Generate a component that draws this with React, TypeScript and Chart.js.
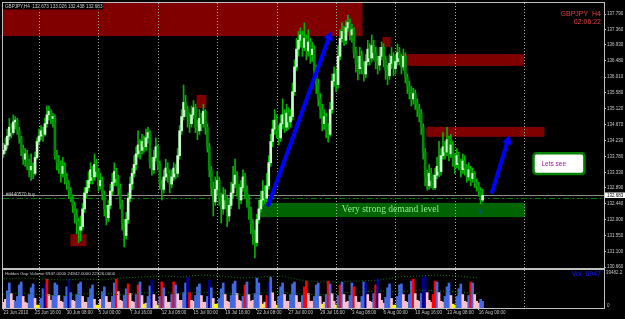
import React, { useEffect, useRef } from "react";
import { Chart, registerables } from "chart.js";

Chart.register(...registerables);

// ---------- price data (H4 bars, index 0 = 23 Jun 2010 00:00) ----------
const firstOpen = 133.85;
const closes = [
  133.95, 134.10, 134.35, 134.60, 134.45, 134.75, 134.80, 134.50, 134.30, 134.00,
  133.70, 133.85, 133.55, 133.40, 133.50, 133.30, 133.75, 134.20, 134.35, 134.50,
  134.40, 134.70, 134.95, 135.05, 134.85, 134.90, 133.80, 133.60, 133.55, 133.30,
  133.50, 133.20, 133.05, 132.80, 132.60, 132.40, 132.15, 131.95, 131.70, 131.80,
  132.30, 132.75, 132.90, 133.10, 133.40, 133.20, 133.55, 133.35, 132.95, 133.10,
  132.70, 132.30, 132.05, 132.40, 132.80, 133.05, 133.35, 133.15, 132.90, 132.45,
  131.90, 131.55, 132.00, 132.60, 133.00, 133.30, 133.55, 133.85, 134.10, 133.95,
  134.20, 134.05, 134.30, 134.45, 133.60, 133.40, 133.75, 134.05, 133.55, 133.00,
  132.85, 133.20, 133.45, 133.30, 133.00, 133.20, 133.45, 133.30, 133.80, 134.50,
  134.90, 135.30, 135.10, 134.90, 134.70, 134.95, 135.15, 134.60, 134.50, 134.85,
  134.70, 135.05, 134.60, 134.05, 133.40, 132.90, 132.50, 132.85, 133.10, 132.60,
  132.30, 132.70, 132.55, 132.10, 132.40, 132.75, 133.00, 133.25, 132.85, 132.55,
  132.90, 133.20, 132.80, 132.60, 132.25, 131.90, 131.55, 131.35, 132.00, 132.30,
  132.55, 132.80, 132.60, 132.95, 133.60, 134.20, 134.55, 134.80, 134.50, 134.30,
  134.70, 134.95, 134.60, 135.00, 134.75, 134.90, 135.60, 136.30, 136.80, 137.05,
  137.20, 136.85, 137.10, 136.75, 137.00, 136.65, 136.80, 136.20, 135.80, 135.40,
  135.10, 134.70, 134.90, 134.50, 134.40, 135.10, 135.90, 136.10, 135.80, 136.60,
  137.10, 137.30, 137.05, 137.40, 137.55, 137.20, 137.35, 136.70, 136.40, 136.25,
  136.60, 136.30, 136.10, 136.45, 136.80, 136.55, 136.90, 136.70, 136.45, 136.35,
  136.60, 136.85, 136.50, 136.20, 136.05, 136.40, 136.60, 136.25, 136.45, 136.70,
  136.55, 136.30, 136.60, 136.00, 135.75, 135.60, 135.40, 135.55, 135.30, 135.10,
  135.00, 134.60, 133.90, 133.20, 132.95, 133.30, 133.10, 132.90, 133.25, 133.50,
  133.35, 133.80, 134.05, 133.90, 134.25, 133.85, 134.10, 133.70, 133.55, 133.80,
  133.60, 133.40, 133.65, 133.45, 133.20, 133.40, 133.15, 133.30, 133.05, 132.95,
  132.80, 132.55, 132.68,
];
const highs = [
  134.15, 134.30, 134.55, 134.85, 134.70, 134.95, 134.90, 134.85, 134.60, 134.35,
  134.10, 134.00, 133.95, 133.70, 133.85, 133.60, 133.90, 134.30, 134.55, 134.65,
  134.60, 134.85, 135.20, 135.20, 135.10, 135.00, 134.95, 133.95, 133.80, 133.65,
  133.75, 133.60, 133.30, 133.10, 132.90, 132.70, 132.50, 132.30, 132.05, 132.10,
  132.45, 132.90, 133.10, 133.35, 133.60, 133.50, 133.85, 133.70, 133.45, 133.30,
  133.20, 132.80, 132.40, 132.55, 133.00, 133.30, 133.60, 133.45, 133.25, 133.00,
  132.55, 132.00, 132.20, 132.75, 133.20, 133.45, 133.80, 134.05, 134.50, 134.25,
  134.40, 134.35, 134.55, 134.60, 134.50, 133.75, 133.95, 134.30, 134.10, 133.65,
  133.10, 133.40, 133.70, 133.60, 133.40, 133.40, 133.60, 133.55, 134.00, 134.65,
  135.10, 135.79, 135.50, 135.20, 135.00, 135.20, 135.35, 135.25, 134.80, 135.10,
  135.00, 135.25, 135.10, 134.70, 134.15, 133.50, 133.05, 133.20, 133.35, 133.20,
  132.75, 132.90, 132.85, 132.65, 132.60, 133.05, 133.50, 133.70, 133.35, 133.00,
  133.10, 133.40, 133.30, 132.95, 132.70, 132.35, 132.00, 131.70, 132.15, 132.55,
  132.80, 133.10, 132.95, 133.30, 133.80, 134.40, 134.80, 135.10, 134.95, 134.65,
  134.95, 135.40, 135.10, 135.25, 135.15, 135.10, 135.85, 136.50, 137.10, 137.30,
  137.40, 137.30, 137.54, 137.20, 137.35, 137.10, 137.00, 136.90, 136.35, 135.95,
  135.55, 135.25, 135.10, 135.00, 134.70, 135.30, 136.10, 136.30, 136.20, 136.90,
  137.35, 137.55, 137.45, 137.60, 137.76, 137.65, 137.50, 137.40, 136.85, 136.60,
  136.85, 136.75, 136.45, 136.65, 137.05, 136.95, 137.20, 137.05, 136.85, 136.60,
  136.85, 137.00, 136.95, 136.60, 136.35, 136.65, 136.85, 136.70, 136.65, 136.95,
  136.85, 136.65, 136.80, 136.70, 136.10, 135.90, 135.75, 135.70, 135.65, 135.40,
  135.25, 135.10, 134.70, 134.00, 133.40, 133.55, 133.45, 133.25, 133.45, 133.75,
  134.20, 134.00, 134.45, 134.20, 134.60, 134.35, 134.40, 134.20, 133.85, 134.00,
  133.90, 133.70, 133.85, 133.80, 133.55, 133.60, 133.50, 133.45, 133.35, 133.15,
  133.05, 132.90, 132.85,
];
const lows = [
  133.75, 133.85, 134.00, 134.25, 134.30, 134.40, 134.55, 134.40, 134.15, 133.80,
  133.55, 133.50, 133.40, 133.20, 133.10, 133.15, 133.25, 133.70, 134.10, 134.25,
  134.20, 134.35, 134.60, 134.80, 134.70, 134.60, 133.70, 133.40, 133.30, 133.05,
  133.20, 133.00, 132.85, 132.60, 132.50, 132.20, 131.90, 131.60, 131.35, 131.40,
  131.70, 132.20, 132.60, 132.80, 133.00, 133.00, 133.10, 133.20, 132.80, 132.85,
  132.55, 132.10, 131.85, 131.95, 132.30, 132.70, 132.95, 132.95, 132.70, 132.30,
  131.70, 131.23, 131.45, 131.90, 132.50, 132.85, 133.20, 133.40, 133.75, 133.70,
  133.85, 133.90, 133.95, 134.15, 133.45, 133.25, 133.30, 133.65, 133.40, 132.85,
  132.55, 132.75, 133.10, 133.05, 132.75, 132.90, 133.10, 133.15, 133.20, 133.70,
  134.40, 134.80, 134.90, 134.60, 134.45, 134.60, 134.85, 134.45, 134.25, 134.40,
  134.50, 134.60, 134.40, 133.90, 133.20, 132.70, 132.10, 132.40, 132.70, 132.40,
  131.90, 132.15, 132.30, 131.80, 131.95, 132.30, 132.60, 132.90, 132.65, 132.30,
  132.45, 132.80, 132.60, 132.35, 132.00, 131.60, 131.30, 130.92, 131.25, 131.90,
  132.20, 132.40, 132.45, 132.50, 132.85, 133.50, 134.05, 134.40, 134.30, 134.10,
  134.20, 134.55, 134.45, 134.50, 134.55, 134.60, 134.80, 135.50, 136.20, 136.60,
  136.85, 136.60, 136.75, 136.50, 136.60, 136.40, 136.45, 136.00, 135.55, 135.20,
  134.85, 134.50, 134.55, 134.30, 134.18, 134.35, 135.00, 135.75, 135.60, 135.70,
  136.50, 137.00, 136.90, 136.95, 137.30, 137.05, 137.00, 136.55, 136.15, 135.93,
  136.10, 136.10, 135.90, 136.00, 136.35, 136.35, 136.45, 136.50, 136.25, 136.10,
  136.20, 136.50, 136.30, 135.95, 135.80, 135.95, 136.25, 136.05, 136.10, 136.35,
  136.35, 136.10, 136.20, 135.85, 135.55, 135.40, 135.20, 135.25, 135.10, 134.90,
  134.75, 134.40, 133.70, 132.95, 132.83, 132.85, 132.90, 132.85, 132.85, 133.15,
  133.20, 133.25, 133.70, 133.70, 133.80, 133.65, 133.75, 133.50, 133.30, 133.45,
  133.40, 133.20, 133.30, 133.25, 133.05, 133.10, 132.95, 133.05, 132.90, 132.80,
  132.65, 132.44, 132.50,
];

const priceTicks = [137.79, 137.36, 136.93, 136.48, 136.01, 135.58, 135.12, 134.67, 134.23, 133.78, 133.33, 132.89, 132.44, 132.0, 131.55, 131.1, 130.66];
const dateLabels = ["23 Jun 2010", "25 Jun 16:00", "30 Jun 08:00", "5 Jul 00:00", "7 Jul 16:00", "12 Jul 08:00", "15 Jul 00:00", "19 Jul 16:00", "22 Jul 08:00", "27 Jul 00:00", "29 Jul 16:00", "3 Aug 08:00", "6 Aug 00:00", "10 Aug 16:00", "13 Aug 08:00", "16 Aug 00:00"];
const weekStarts = [18, 48, 78, 108, 138, 168, 198, 228, 263];
const bidPrice = 132.683;
const orderPrice = 132.62;

// zones: [fromBar, toBar, topPrice, bottomPrice]
const supplyZones = [
  [-2, 181.3, 138.3, 137.17],
  [33.8, 41.9, 131.59, 131.25],
  [97.5, 102.5, 135.51, 135.14],
  [191.4, 195.5, 137.14, 136.86],
  [201.5, 263, 136.66, 136.33],
  [213.6, 273.2, 134.61, 134.33],
];
const demandZone = [128.8, 263.6, 132.47, 132.07];
// arrows: [fromBar, fromPrice, toBar, toPrice]
const arrowLines = [
  [133.8, 132.41, 165.6, 137.31],
  [246.8, 132.78, 255.6, 134.38],
];
const noteBox = [267.7, 293.4, 133.87, 133.28];

// ---------- volume data ----------
const volumes = [
  6000, 9000, 18000, 26000, 15000, 8000,
  7000, 12000, 24000, 27000, 12000, 6000,
  5000, 14000, 21000, 25000, 10000, 3000,
  3000, 10000, 20000, 25000, 30000, 14000,
  8000, 13000, 26000, 24000, 13000, 7000,
  6000, 12000, 22000, 30000, 16000, 8000,
  7000, 14000, 25000, 27000, 12000, 6000,
  6000, 11000, 20000, 24000, 9000, 3000,
  3000, 9000, 17000, 22000, 12000, 6000,
  6000, 12000, 26000, 30000, 17000, 8000,
  7000, 13000, 20000, 25000, 15000, 7000,
  6000, 14000, 24000, 27000, 13000, 4000,
  5000, 12000, 23000, 29000, 14000, 7000,
  3000, 12000, 27000, 21000, 12000, 6000,
  6000, 14000, 27000, 24000, 15000, 8000,
  8000, 16000, 26000, 32000, 16000, 8000,
  7000, 13000, 22000, 25000, 13000, 6000,
  6000, 12000, 29000, 21000, 10000, 4000,
  4000, 10000, 20000, 26000, 14000, 7000,
  6000, 13000, 25000, 28000, 15000, 8000,
  7000, 12000, 24000, 27000, 14000, 7000,
  8000, 15000, 31000, 26000, 13000, 4000,
  6000, 13000, 27000, 32000, 16000, 7000,
  3000, 12000, 22000, 26000, 14000, 7000,
  7000, 14000, 25000, 27000, 13000, 6000,
  6000, 13000, 22000, 28000, 15000, 7000,
  7000, 12000, 24000, 26000, 12000, 4000,
  6000, 14000, 28000, 25000, 15000, 7000,
  3000, 13000, 24000, 27000, 14000, 6000,
  7000, 13000, 26000, 22000, 12000, 6000,
  6000, 12000, 27000, 26000, 14000, 7000,
  6000, 15000, 24000, 30000, 15000, 8000,
  5000, 11000, 21000, 25000, 10000, 3000,
  3000, 12000, 24000, 25000, 14000, 7000,
  6000, 14000, 28000, 30000, 15000, 8000,
  7000, 15000, 31000, 33000, 16000, 8000,
  6000, 14000, 28000, 27000, 16000, 7000,
  6000, 12000, 22000, 26000, 13000, 4000,
  3000, 12000, 20000, 25000, 14000, 7000,
  6000, 13000, 27000, 26000, 14000, 7000,
  5000, 9000, 6947,
];
const volumeKinds = (
  "ppbbpp bbbbpp pbbbpy ybbnrp pbbbpp pbbnbp pbbbpp pbbbpy ypbbpp pbbrpp " +
  "pbbrpp pbrbpy pbbnpp ybrbpp pbrbpp pbbnrp pbbbpp pbnbpy ybbbpp pbbbpp " +
  "pbrbpp pbbbpy prnbpp ybbbpp pbbbpp pbrrpp pbbbpy pbrbpp ybrbpp pbbrpp " +
  "pbbnpp pbrnpp pbbbpy ybbbpp pbbrpp pbnnpp prrbpp pbbbpy ybbbpp pbrbpp pbb"
).replace(/ /g, "").split("");
const maBars = [0, 10, 20, 30, 40, 50, 60, 70, 80, 90, 100, 110, 120, 130, 140, 150, 160, 170, 180, 190, 200, 210, 220, 230, 240];
const maUpper = [30130, 31170, 30130, 29091, 30130, 29091, 31170, 32209, 33248, 32209, 34287, 33248, 31170, 32209, 33248, 29091, 27014, 27014, 28053, 29091, 32209, 33248, 34287, 33248, 31170];
const maLower = [14546, 15585, 13507, 12468, 14546, 15585, 13507, 15585, 16624, 14546, 16624, 15585, 13507, 15585, 16624, 14546, 13507, 15585, 16624, 17663, 16624, 18702, 17663, 16624, 14546];
const volMax = 39482.2;

const SANS = "'Liberation Sans', Arial, sans-serif";
const volPalette: Record<string, string> = { b: "#4169e1", n: "#00008b", r: "#ff0000", p: "#ffc0cb", y: "#ffff00" };

function drawArrow(ctx: CanvasRenderingContext2D, x0: number, y0: number, x1: number, y1: number, w: number, head: number) {
  const ang = Math.atan2(y1 - y0, x1 - x0);
  const hx = x1 - Math.cos(ang) * head;
  const hy = y1 - Math.sin(ang) * head;
  ctx.strokeStyle = "#0000ff";
  ctx.fillStyle = "#0000ff";
  ctx.lineWidth = w;
  ctx.lineCap = "round";
  ctx.beginPath();
  ctx.moveTo(x0, y0);
  ctx.lineTo(hx, hy);
  ctx.stroke();
  const pw = head * 0.55;
  ctx.beginPath();
  ctx.moveTo(x1, y1);
  ctx.lineTo(hx + Math.cos(ang + Math.PI / 2) * pw, hy + Math.sin(ang + Math.PI / 2) * pw);
  ctx.lineTo(hx - Math.cos(ang + Math.PI / 2) * pw, hy - Math.sin(ang + Math.PI / 2) * pw);
  ctx.closePath();
  ctx.fill();
}

function drawWeekGrid(chart: any) {
  const { ctx, chartArea: a } = chart;
  const xs = chart.scales.x;
  ctx.save();
  ctx.strokeStyle = "#a8a8a8";
  ctx.lineWidth = 1;
  ctx.setLineDash([1, 2]);
  weekStarts.forEach((i) => {
    const px = Math.round(xs.getPixelForValue(i)) + 0.5;
    ctx.beginPath();
    ctx.moveTo(px, a.top);
    ctx.lineTo(px, a.bottom);
    ctx.stroke();
  });
  ctx.restore();
}

function drawBorder(chart: any) {
  const { ctx, chartArea: a } = chart;
  ctx.save();
  ctx.strokeStyle = "#c0c0c0";
  ctx.lineWidth = 1;
  ctx.strokeRect(a.left - 0.5, a.top - 0.5, a.right - a.left + 1, a.bottom - a.top + 1);
  ctx.restore();
}

const mainPlugin = {
  id: "mainOverlay",
  beforeDatasetsDraw(chart: any) {
    const { ctx, chartArea: a } = chart;
    const xs = chart.scales.x;
    const ys = chart.scales.y;
    ctx.save();
    ctx.beginPath();
    ctx.rect(a.left, a.top, a.right - a.left, a.bottom - a.top);
    ctx.clip();
    ctx.fillStyle = "#800000";
    supplyZones.forEach((z) => {
      const x0 = xs.getPixelForValue(z[0]);
      const x1 = xs.getPixelForValue(z[1]);
      const y0 = ys.getPixelForValue(z[2]);
      const y1 = ys.getPixelForValue(z[3]);
      ctx.fillRect(x0, y0, x1 - x0, y1 - y0);
    });
    ctx.fillStyle = "#006400";
    {
      const x0 = xs.getPixelForValue(demandZone[0]);
      const x1 = xs.getPixelForValue(demandZone[1]);
      const y0 = ys.getPixelForValue(demandZone[2]);
      const y1 = ys.getPixelForValue(demandZone[3]);
      ctx.fillRect(x0, y0, x1 - x0, y1 - y0);
    }
    ctx.restore();
    drawWeekGrid(chart);
    ctx.save();
    const by = Math.round(ys.getPixelForValue(bidPrice)) + 0.5;
    ctx.strokeStyle = "#8c8c8c";
    ctx.lineWidth = 1;
    ctx.beginPath();
    ctx.moveTo(a.left, by);
    ctx.lineTo(a.right, by);
    ctx.stroke();
    const oy = Math.round(ys.getPixelForValue(orderPrice)) + 0.5;
    ctx.strokeStyle = "#007a00";
    ctx.setLineDash([6, 3, 2, 3]);
    ctx.beginPath();
    ctx.moveTo(a.left, oy);
    ctx.lineTo(a.right, oy);
    ctx.stroke();
    ctx.setLineDash([]);
    ctx.restore();
  },
  afterDatasetsDraw(chart: any) {
    const { ctx, chartArea: a } = chart;
    const xs = chart.scales.x;
    const ys = chart.scales.y;
    ctx.save();
    ctx.beginPath();
    ctx.rect(a.left, a.top, a.right - a.left, a.bottom - a.top);
    ctx.clip();

    ctx.fillStyle = "#8cf08c";
    ctx.font = "9.5px 'Liberation Serif', 'DejaVu Serif', serif";
    ctx.textAlign = "center";
    ctx.textBaseline = "middle";
    ctx.fillText("Very strong demand level", xs.getPixelForValue(195.5), ys.getPixelForValue(132.27));

    arrowLines.forEach((l) => {
      drawArrow(ctx, xs.getPixelForValue(l[0]), ys.getPixelForValue(l[1]), xs.getPixelForValue(l[2]), ys.getPixelForValue(l[3]), 4, 9);
    });

    ctx.fillStyle = "#1a3cff";
    ctx.font = "7px 'DejaVu Sans', sans-serif";
    ctx.textAlign = "center";
    ctx.fillText("\u21e7", xs.getPixelForValue(240.6), ys.getPixelForValue(132.2));

    {
      const x0 = xs.getPixelForValue(noteBox[0]);
      const x1 = xs.getPixelForValue(noteBox[1]);
      const y0 = ys.getPixelForValue(noteBox[2]);
      const y1 = ys.getPixelForValue(noteBox[3]);
      ctx.fillStyle = "#ffffff";
      ctx.strokeStyle = "#008000";
      ctx.lineWidth = 2.5;
      ctx.beginPath();
      (ctx as any).roundRect(x0, y0, x1 - x0, y1 - y0, 3);
      ctx.fill();
      ctx.stroke();
      ctx.fillStyle = "#9a1a9a";
      ctx.font = "6.5px " + SANS;
      ctx.textAlign = "left";
      ctx.fillText("Lets see", x0 + 8, (y0 + y1) / 2 + 0.5);
    }

    ctx.fillStyle = "#c8c8c8";
    ctx.font = "4.6px " + SANS;
    ctx.textAlign = "left";
    ctx.textBaseline = "alphabetic";
    ctx.fillText("#4440570 buy", a.left + 3, ys.getPixelForValue(orderPrice) - 1.5);

    ctx.fillStyle = "#000000";
    ctx.fillRect(a.left, a.top, 100, 6.5);
    ctx.fillStyle = "#d0d0d0";
    ctx.font = "4.6px " + SANS;
    ctx.textBaseline = "middle";
    ctx.fillText("GBPJPY,H4  132.673 133.026 132.438 132.683", a.left + 2, a.top + 3.3);

    ctx.fillStyle = "#e04040";
    ctx.font = "7px " + SANS;
    ctx.textAlign = "right";
    ctx.fillText("GBPJPY  H4", a.right - 3, 14.5);
    ctx.fillText("02:06:22", a.right - 3, 22.5);
    ctx.restore();
  },
  afterDraw(chart: any) {
    const { ctx, chartArea: a } = chart;
    const ys = chart.scales.y;
    drawBorder(chart);
    ctx.save();
    const y = ys.getPixelForValue(bidPrice);
    ctx.fillStyle = "#ffffff";
    ctx.fillRect(a.right + 1, Math.round(y) - 2.5, 21, 5.5);
    ctx.fillStyle = "#000000";
    ctx.font = "4.5px " + SANS;
    ctx.textAlign = "left";
    ctx.textBaseline = "middle";
    ctx.fillText(bidPrice.toFixed(3), a.right + 3, Math.round(y) + 0.3);
    ctx.restore();
  },
};

const volPlugin = {
  id: "volOverlay",
  beforeDatasetsDraw(chart: any) {
    drawWeekGrid(chart);
  },
  afterDraw(chart: any) {
    const { ctx, chartArea: a } = chart;
    const ys = chart.scales.y;
    drawBorder(chart);
    ctx.save();
    ctx.fillStyle = "#c8c8c8";
    ctx.font = "4.4px " + SANS;
    ctx.textAlign = "left";
    ctx.textBaseline = "middle";
    ctx.fillText("Hidden Gap Volume 6947.0000 24942.0000 22326.0000", a.left + 2, a.top + 4);
    ctx.fillStyle = "#1818ff";
    ctx.font = "7px " + SANS;
    ctx.textAlign = "right";
    ctx.fillText("Vol  " + volumes[volumes.length - 1], a.right - 3, a.top + 4.5);
    ctx.fillStyle = "#c0c0c0";
    ctx.font = "4.5px " + SANS;
    ctx.textAlign = "left";
    ctx.fillText(volMax.toFixed(1), a.right + 2, ys.getPixelForValue(volMax) + 3);
    ctx.fillText("0", a.right + 3, ys.getPixelForValue(0) - 2.5);
    ctx.restore();
  },
};

export default function App() {
  const mainRef = useRef<HTMLCanvasElement>(null);
  const volRef = useRef<HTMLCanvasElement>(null);

  useEffect(() => {
    const opens = closes.map((c, i) => (i === 0 ? firstOpen : closes[i - 1]));
    const bodyColors = closes.map((c, i) => (c >= opens[i] ? "#c8ffc8" : "#008c00"));

    const main = new Chart(mainRef.current as HTMLCanvasElement, {
      type: "bar",
      data: {
        datasets: [
          {
            data: closes.map((c, i) => ({ x: i, y: [lows[i], highs[i]] })) as any,
            backgroundColor: "#00b400",
            barThickness: 1,
            grouped: false,
            order: 2,
          } as any,
          {
            data: closes.map((c, i) => ({ x: i, y: [Math.min(opens[i], c), Math.max(opens[i], c)] })) as any,
            backgroundColor: bodyColors,
            barThickness: 2,
            minBarLength: 1,
            grouped: false,
            order: 1,
          } as any,
        ],
      },
      options: {
        animation: false,
        responsive: false,
        maintainAspectRatio: false,
        layout: { padding: { left: 3, top: 3, right: 0, bottom: 1 } },
        plugins: { legend: { display: false }, tooltip: { enabled: false } },
        scales: {
          x: { type: "linear", min: -0.2, max: 303.3, offset: false, display: false, grid: { offset: false } },
          y: {
            position: "right",
            min: 130.635,
            max: 138.1,
            afterFit: (s: any) => {
              s.width = 21;
              s.paddingTop = 0;
              s.paddingBottom = 0;
            },
            afterBuildTicks: (s: any) => {
              s.ticks = priceTicks.map((v) => ({ value: v }));
            },
            ticks: {
              autoSkip: false,
              color: "#c8c8c8",
              padding: 1,
              font: { size: 4.5, family: SANS },
              callback: (v: any) => Number(v).toFixed(3),
            },
            grid: { drawOnChartArea: false, color: "#c0c0c0", tickLength: 2 },
            border: { display: false },
          },
        },
      } as any,
      plugins: [mainPlugin],
    });

    const vol = new Chart(volRef.current as HTMLCanvasElement, {
      type: "bar",
      data: {
        datasets: [
          {
            type: "line",
            data: maBars.map((b, k) => ({ x: b, y: maUpper[k] })),
            borderColor: "#0b7a0b",
            borderWidth: 1,
            borderDash: [1, 2],
            pointRadius: 0,
            order: 0,
          } as any,
          {
            type: "line",
            data: maBars.map((b, k) => ({ x: b, y: maLower[k] })),
            borderColor: "#0b7a0b",
            borderWidth: 1,
            borderDash: [1, 2],
            pointRadius: 0,
            order: 0,
          } as any,
          {
            type: "bar",
            data: volumes.map((v, i) => ({ x: i, y: v })),
            backgroundColor: volumeKinds.map((k) => volPalette[k]),
            barThickness: 2,
            order: 1,
          } as any,
        ],
      },
      options: {
        animation: false,
        responsive: false,
        maintainAspectRatio: false,
        layout: { padding: { left: 3, top: 1, right: 21, bottom: 0 } },
        plugins: { legend: { display: false }, tooltip: { enabled: false } },
        scales: {
          x: {
            type: "linear",
            min: -0.2,
            max: 303.3,
            offset: false,
            afterFit: (s: any) => {
              s.height = 11;
              s.paddingLeft = 0;
              s.paddingRight = 0;
            },
            afterBuildTicks: (s: any) => {
              s.ticks = dateLabels.map((_, k) => ({ value: k * 16 }));
            },
            ticks: {
              autoSkip: false,
              maxRotation: 0,
              minRotation: 0,
              align: "start",
              padding: 0,
              color: "#c8c8c8",
              font: { size: 4.5, family: SANS },
              callback: (v: any) => dateLabels[Math.round(Number(v) / 16)] ?? "",
            },
            grid: { drawOnChartArea: false, color: "#c0c0c0", tickLength: 2, offset: false },
            border: { display: false },
          },
          y: { display: false, min: 0, max: volMax },
        },
      } as any,
      plugins: [volPlugin],
    });

    return () => {
      main.destroy();
      vol.destroy();
    };
  }, []);

  return (
    <div style={{ position: "fixed", left: 0, top: 0, width: 625, height: 319, background: "#000", overflow: "hidden" }}>
      <canvas ref={mainRef} width={625} height={269} style={{ position: "absolute", left: 0, top: 0, width: 625, height: 269 }} />
      <canvas ref={volRef} width={625} height={50} style={{ position: "absolute", left: 0, top: 269, width: 625, height: 50 }} />
    </div>
  );
}
